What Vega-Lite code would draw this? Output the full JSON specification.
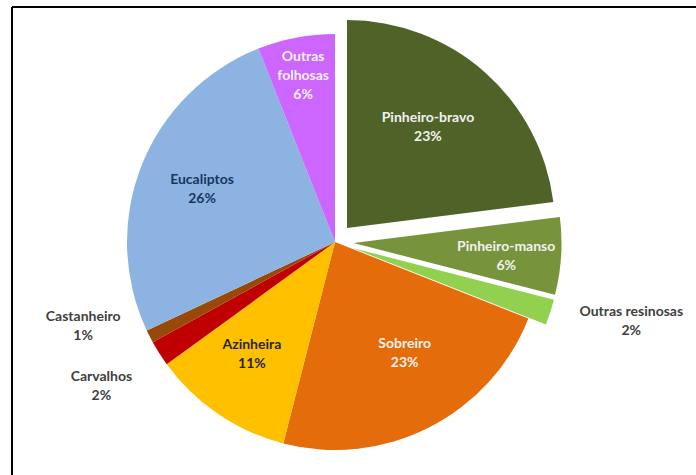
{
  "$schema": "https://vega.github.io/schema/vega-lite/v6.json",
  "autosize": "none",
  "width": 684,
  "height": 468,
  "padding": {"left": 12, "top": 7, "right": 0, "bottom": 0},
  "background": "white",
  "config": {"view": {"stroke": null}},
  "layer": [
    {
      "data": {"values": [{"frame": 1}]},
      "mark": {"type": "rule", "stroke": "black", "strokeWidth": 2},
      "encoding": {"y": {"value": 0}}
    },
    {
      "data": {"values": [{"frame": 1}]},
      "mark": {"type": "rule", "stroke": "black", "strokeWidth": 2},
      "encoding": {"x": {"value": 0}}
    },
    {
      "data": {"values": [
        {"name": "Pinheiro-bravo", "ord": 1, "value": 23, "label": "Pinheiro-bravo\n23%"},
        {"name": "Pinheiro-manso", "ord": 2, "value": 6, "label": "Pinheiro-manso\n6%"},
        {"name": "Outras resinosas", "ord": 3, "value": 2, "label": "Outras resinosas\n2%"},
        {"name": "Sobreiro", "ord": 4, "value": 23, "label": "Sobreiro\n23%"},
        {"name": "Azinheira", "ord": 5, "value": 11, "label": "Azinheira\n11%"},
        {"name": "Carvalhos", "ord": 6, "value": 2, "label": "Carvalhos\n2%"},
        {"name": "Castanheiro", "ord": 7, "value": 1, "label": "Castanheiro\n1%"},
        {"name": "Eucaliptos", "ord": 8, "value": 26, "label": "Eucaliptos\n26%"},
        {"name": "Outras folhosas", "ord": 9, "value": 6, "label": "Outras\nfolhosas\n6%"}
      ]},
      "encoding": {
        "theta": {"field": "value", "type": "quantitative", "stack": true},
        "order": {"field": "ord", "type": "quantitative"},
        "color": {
          "field": "name", "type": "nominal", "legend": null,
          "scale": {
            "domain": ["Pinheiro-bravo", "Pinheiro-manso", "Outras resinosas", "Sobreiro", "Azinheira", "Carvalhos", "Castanheiro", "Eucaliptos", "Outras folhosas"],
            "range": ["#4f6228", "#77933c", "#92d050", "#e46c0a", "#ffc000", "#c00000", "#984807", "#8db3e2", "#cc66ff"]
          }
        }
      },
      "layer": [
        {
          "mark": {"type": "arc", "radius": 208, "xOffset": -19, "yOffset": 1},
          "encoding": {"opacity": {"condition": {"test": "indexof(['Pinheiro-bravo','Pinheiro-manso','Outras resinosas'], datum.name) >= 0", "value": 0}, "value": 1}}
        },
        {
          "mark": {"type": "arc", "radius": 208, "xOffset": -7, "yOffset": -13},
          "encoding": {"opacity": {"condition": {"test": "datum.name === 'Pinheiro-bravo'", "value": 1}, "value": 0}}
        },
        {
          "mark": {"type": "arc", "radius": 208, "xOffset": -0.5, "yOffset": 2},
          "encoding": {"opacity": {"condition": {"test": "datum.name === 'Pinheiro-manso'", "value": 1}, "value": 0}}
        },
        {
          "mark": {"type": "arc", "radius": 208, "xOffset": -1.5, "yOffset": 7},
          "encoding": {"opacity": {"condition": {"test": "datum.name === 'Outras resinosas'", "value": 1}, "value": 0}}
        },
        {
          "mark": {"type": "text", "radius": 130, "xOffset": -7, "yOffset": -13, "dx": -5, "dy": -12.5, "font": "Lato", "fontWeight": "bold", "fontSize": 14, "lineHeight": 19, "lineBreak": "\n", "baseline": "middle"},
          "encoding": {"color": {"value": "#f2f2f2"}, "text": {"condition": {"test": "datum.name === 'Pinheiro-bravo'", "field": "label"}, "value": ""}}
        },
        {
          "mark": {"type": "text", "radius": 153, "xOffset": -0.5, "yOffset": 2, "dy": -5.5, "font": "Lato", "fontWeight": "bold", "fontSize": 14, "lineHeight": 19, "lineBreak": "\n", "baseline": "middle"},
          "encoding": {"color": {"value": "#f2f2f2"}, "text": {"condition": {"test": "datum.name === 'Pinheiro-manso'", "field": "label"}, "value": ""}}
        },
        {
          "mark": {"type": "text", "radius": 127, "xOffset": -19, "yOffset": 1, "dx": 12, "dy": -11.5, "font": "Lato", "fontWeight": "bold", "fontSize": 14, "lineHeight": 19, "lineBreak": "\n", "baseline": "middle"},
          "encoding": {"color": {"value": "#f2f2f2"}, "text": {"condition": {"test": "datum.name === 'Sobreiro'", "field": "label"}, "value": ""}}
        },
        {
          "mark": {"type": "text", "radius": 139, "xOffset": -19, "yOffset": 1, "dx": -5, "dy": -11.5, "font": "Lato", "fontWeight": "bold", "fontSize": 14, "lineHeight": 19, "lineBreak": "\n", "baseline": "middle"},
          "encoding": {"color": {"value": "#262626"}, "text": {"condition": {"test": "datum.name === 'Azinheira'", "field": "label"}, "value": ""}}
        },
        {
          "mark": {"type": "text", "radius": 143, "xOffset": -19, "yOffset": 1, "dy": -9, "font": "Lato", "fontWeight": "bold", "fontSize": 14, "lineHeight": 19, "lineBreak": "\n", "baseline": "middle"},
          "encoding": {"color": {"value": "#17375e"}, "text": {"condition": {"test": "datum.name === 'Eucaliptos'", "field": "label"}, "value": ""}}
        },
        {
          "mark": {"type": "text", "radius": 170, "xOffset": -19, "yOffset": 1, "dy": -18, "font": "Lato", "fontWeight": "bold", "fontSize": 14, "lineHeight": 19, "lineBreak": "\n", "baseline": "middle"},
          "encoding": {"color": {"value": "#f2f2f2"}, "text": {"condition": {"test": "datum.name === 'Outras folhosas'", "field": "label"}, "value": ""}}
        },
        {
          "mark": {"type": "text", "radius": 240, "xOffset": -19, "yOffset": 1, "dx": 68, "dy": -4, "font": "Lato", "fontWeight": "bold", "fontSize": 14, "lineHeight": 19, "lineBreak": "\n", "baseline": "middle"},
          "encoding": {"color": {"value": "#404040"}, "text": {"condition": {"test": "datum.name === 'Outras resinosas'", "field": "label"}, "value": ""}}
        },
        {
          "mark": {"type": "text", "radius": 240, "xOffset": -19, "yOffset": 1, "dx": -31, "dy": 6, "font": "Lato", "fontWeight": "bold", "fontSize": 14, "lineHeight": 19, "lineBreak": "\n", "baseline": "middle"},
          "encoding": {"color": {"value": "#404040"}, "text": {"condition": {"test": "datum.name === 'Carvalhos'", "field": "label"}, "value": ""}}
        },
        {
          "mark": {"type": "text", "radius": 240, "xOffset": -19, "yOffset": 1, "dx": -38, "dy": -34, "font": "Lato", "fontWeight": "bold", "fontSize": 14, "lineHeight": 19, "lineBreak": "\n", "baseline": "middle"},
          "encoding": {"color": {"value": "#404040"}, "text": {"condition": {"test": "datum.name === 'Castanheiro'", "field": "label"}, "value": ""}}
        }
      ]
    }
  ]
}
